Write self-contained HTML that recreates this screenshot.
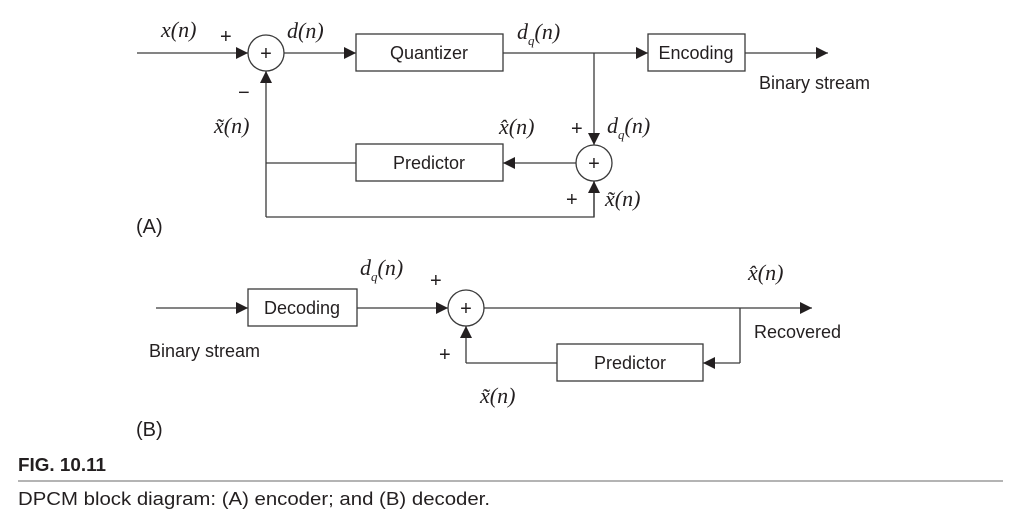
<!DOCTYPE html>
<html><head><meta charset="utf-8"><style>
html,body{margin:0;padding:0;background:#fff;width:1024px;height:522px;overflow:hidden}
svg{display:block}
.s{font-family:"Liberation Sans",sans-serif;fill:#231f20}
.m{font-family:"Liberation Serif",serif;font-style:italic;fill:#231f20;font-size:22px}
line,polyline,rect,circle{stroke:#3a3a3a;stroke-width:1.3;fill:none}
</style></head><body>
<svg width="1024" height="522" viewBox="0 0 1024 522">
<defs><marker id="ar" viewBox="0 0 10 10" refX="10" refY="5" markerWidth="12" markerHeight="12" markerUnits="userSpaceOnUse" orient="auto"><path d="M0,0 L10,5 L0,10 z" fill="#231f20"/></marker></defs>
<g>
<line x1="137" y1="53" x2="248" y2="53" marker-end="url(#ar)"/>
<circle cx="266" cy="53" r="18"/>
<text class="s" x="266" y="60" font-size="20" text-anchor="middle">+</text>
<line x1="284" y1="53" x2="356" y2="53" marker-end="url(#ar)"/>
<rect x="356" y="34" width="147" height="37"/>
<text class="s" x="429" y="59" font-size="18" text-anchor="middle">Quantizer</text>
<line x1="503" y1="53" x2="648" y2="53" marker-end="url(#ar)"/>
<rect x="648" y="34" width="97" height="37"/>
<text class="s" x="696" y="59" font-size="18" text-anchor="middle">Encoding</text>
<line x1="745" y1="53" x2="828" y2="53" marker-end="url(#ar)"/>
<line x1="594" y1="53" x2="594" y2="145" marker-end="url(#ar)"/>
<circle cx="594" cy="163" r="18"/>
<text class="s" x="594" y="170" font-size="20" text-anchor="middle">+</text>
<line x1="576" y1="163" x2="503" y2="163" marker-end="url(#ar)"/>
<rect x="356" y="144" width="147" height="37"/>
<text class="s" x="429" y="169" font-size="18" text-anchor="middle">Predictor</text>
<polyline points="356,163 266,163"/>
<line x1="266" y1="217" x2="266" y2="71" marker-end="url(#ar)"/>
<polyline points="266,217 594,217 594,181"/>
<line x1="594" y1="217" x2="594" y2="181" marker-end="url(#ar)"/>
<text class="m" x="161" y="37">x(n)</text>
<text class="s" x="220" y="43" font-size="20">+</text>
<text class="m" x="287" y="38">d(n)</text>
<text class="m" x="517" y="39">d<tspan font-size="13" dy="6">q</tspan><tspan dy="-6">(n)</tspan></text>
<text class="s" x="238" y="99" font-size="20">−</text>
<text class="m" x="214" y="133">x̃(n)</text>
<text class="m" x="499" y="134">x̂(n)</text>
<text class="s" x="571" y="135" font-size="20">+</text>
<text class="m" x="607" y="133">d<tspan font-size="13" dy="6">q</tspan><tspan dy="-6">(n)</tspan></text>
<text class="s" x="566" y="206" font-size="20">+</text>
<text class="m" x="605" y="206">x̃(n)</text>
<text class="s" x="759" y="89" font-size="18">Binary stream</text>
<text class="s" x="136" y="233" font-size="20">(A)</text>
</g>
<g>
<line x1="156" y1="308" x2="248" y2="308" marker-end="url(#ar)"/>
<rect x="248" y="289" width="109" height="37"/>
<text class="s" x="302" y="314" font-size="18" text-anchor="middle">Decoding</text>
<line x1="357" y1="308" x2="448" y2="308" marker-end="url(#ar)"/>
<circle cx="466" cy="308" r="18"/>
<text class="s" x="466" y="315" font-size="20" text-anchor="middle">+</text>
<line x1="484" y1="308" x2="812" y2="308" marker-end="url(#ar)"/>
<polyline points="740,308 740,363"/>
<line x1="740" y1="363" x2="703" y2="363" marker-end="url(#ar)"/>
<rect x="557" y="344" width="146" height="37"/>
<text class="s" x="630" y="369" font-size="18" text-anchor="middle">Predictor</text>
<polyline points="557,363 466,363"/>
<line x1="466" y1="363" x2="466" y2="326" marker-end="url(#ar)"/>
<text class="m" x="360" y="275">d<tspan font-size="13" dy="6">q</tspan><tspan dy="-6">(n)</tspan></text>
<text class="s" x="430" y="287" font-size="20">+</text>
<text class="m" x="748" y="280">x̂(n)</text>
<text class="s" x="149" y="357" font-size="18">Binary stream</text>
<text class="s" x="754" y="338" font-size="18">Recovered</text>
<text class="s" x="439" y="361" font-size="20">+</text>
<text class="m" x="480" y="403">x̃(n)</text>
<text class="s" x="136" y="436" font-size="20">(B)</text>
</g>
<text class="s" x="18" y="471" font-size="18" font-weight="bold" textLength="88" lengthAdjust="spacingAndGlyphs">FIG. 10.11</text>
<line x1="18" y1="481" x2="1003" y2="481" style="stroke:#888;stroke-width:1.2"/>
<text class="s" x="18" y="505" font-size="18" textLength="472" lengthAdjust="spacingAndGlyphs">DPCM block diagram: (A) encoder; and (B) decoder.</text>
</svg>
</body></html>
